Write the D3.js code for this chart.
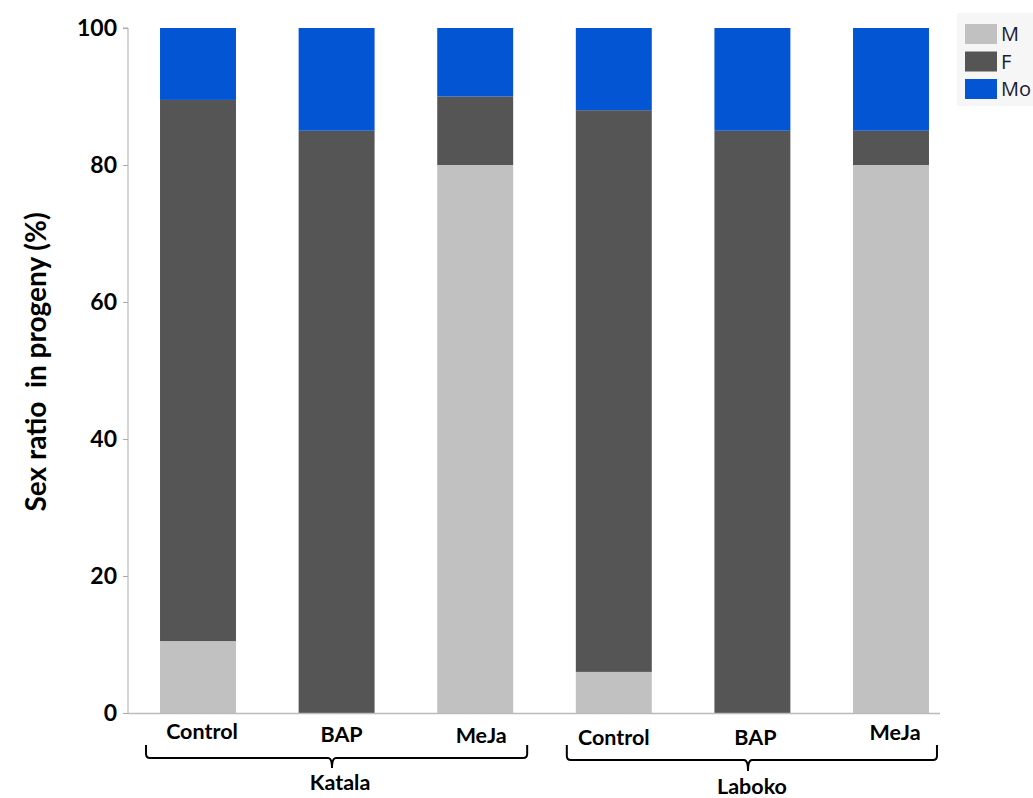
<!DOCTYPE html>
<html><head><meta charset="utf-8">
<script src="https://cdn.jsdelivr.net/npm/d3@7"></script>
<style>body{margin:0;background:#fff}svg{display:block}</style>
</head><body>
<svg id="c" width="1033" height="798"></svg>
<script>
const categories = ["K-Control","K-BAP","K-MeJa","L-Control","L-BAP","L-MeJa"];
const catLabels = ["Control","BAP","MeJa","Control","BAP","MeJa"];
const groups = ["Katala","Laboko"];
const seriesNames = ["M","F","Mo"];
const valuesM  = [10.5, 0, 80, 6, 0, 80];
const valuesF  = [79, 85, 10, 82, 85, 5];
const valuesMo = [10.5, 15, 10, 12, 15, 15];
const yTicks = [0,20,40,60,80,100];
const colors = ["#c1c1c1","#555555","#0455d3"];

const svg = d3.select("#c");
const font = "Lato, 'Open Sans', sans-serif";
const x = d3.scaleBand().domain(categories).range([128.7, 960.3]).paddingInner(0.452).paddingOuter(0.226);
const y = d3.scaleLinear().domain([0,100]).range([713, 28]);

const rows = categories.map((c,i)=>({cat:c, M:valuesM[i], F:valuesF[i], Mo:valuesMo[i]}));
const stack = d3.stack().keys(seriesNames)(rows);

svg.append("g").selectAll("g").data(stack).join("g")
  .attr("fill",(d,i)=>colors[i])
  .selectAll("rect").data(d=>d).join("rect")
  .attr("x",d=>x(d.data.cat))
  .attr("width",x.bandwidth())
  .attr("y",d=>y(d[1]))
  .attr("height",d=>y(d[0])-y(d[1]));

// y axis
const ya = svg.append("g").attr("transform","translate(128,0)")
  .call(d3.axisLeft(y).tickValues(yTicks).tickSize(5).tickPadding(6));
ya.select(".domain").attr("stroke","#aaa").attr("d","M-5,28H0V713");
ya.selectAll(".tick line").attr("stroke","#aaa");
ya.selectAll(".tick text").attr("font-family",font).attr("font-weight","bold").attr("font-size",23).attr("fill","#000");

// x axis line
svg.append("line").attr("x1",128).attr("x2",940).attr("y1",713.5).attr("y2",713.5).attr("stroke","#bbb").attr("stroke-width",1.5);

// category labels
const labelDy = [739,742,743,745,745,740];
const labelDx = [4,5,6,0,3,4];
svg.append("g").selectAll("text").data(categories).join("text")
  .attr("x",(d,i)=>x(d)+x.bandwidth()/2+labelDx[i])
  .attr("y",(d,i)=>labelDy[i])
  .attr("text-anchor","middle").attr("font-family",font).attr("font-weight","bold").attr("font-size",21.5)
  .text((d,i)=>catLabels[i]);

// braces
const braces = [
  {g:groups[0], x0:x(categories[0])-14, x1:x(categories[2])+x.bandwidth()+14, top:745, bot:758, mid:332, tip:768, ty:790, tx:340},
  {g:groups[1], x0:x(categories[3])-9, x1:x(categories[5])+x.bandwidth()+8, top:745, bot:760, mid:748, tip:771, ty:794, tx:752}
];
braces.forEach(b=>{
  const r=4;
  const p = `M${b.x0},${b.top} V${b.bot-r} Q${b.x0},${b.bot} ${b.x0+r},${b.bot} H${b.mid-r} Q${b.mid},${b.bot} ${b.mid},${b.tip} Q${b.mid},${b.bot} ${b.mid+r},${b.bot} H${b.x1-r} Q${b.x1},${b.bot} ${b.x1},${b.bot-r} V${b.top}`;
  svg.append("path").attr("d",p).attr("fill","none").attr("stroke","#000").attr("stroke-width",2);
  svg.append("text").attr("x",b.tx).attr("y",b.ty).attr("text-anchor","middle")
    .attr("font-family",font).attr("font-weight","bold").attr("font-size",21.5).text(b.g);
});

// y title
svg.append("text").attr("transform","translate(46,362) rotate(-90)").attr("text-anchor","middle")
  .attr("font-family",font).attr("font-weight","bold").attr("font-size",28).attr("xml:space","preserve")
  .style("white-space","pre").text("Sex ratio  in progeny (%)");

// legend
const lg = svg.append("g");
lg.append("rect").attr("x",957).attr("y",13).attr("width",76).attr("height",93).attr("fill","#f6f6f6");
seriesNames.forEach((s,i)=>{
  lg.append("rect").attr("x",965).attr("y",24+i*27.5).attr("width",32).attr("height",20).attr("fill",colors[i]);
  lg.append("text").attr("x",1001).attr("y",41+i*27.5).attr("font-family","'Open Sans', sans-serif")
    .attr("font-size",20).attr("fill","#1a1a33").text(s);
});
</script>
</body></html>
